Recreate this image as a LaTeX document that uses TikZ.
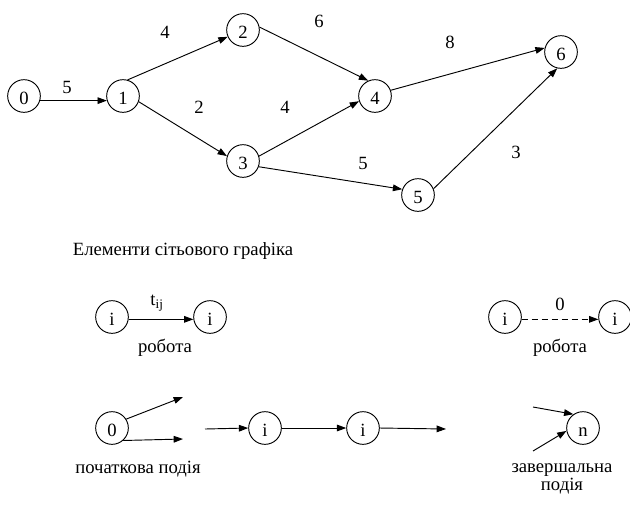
\documentclass[tikz,border=0pt]{standalone}
\usepackage{fontspec}
\setmainfont{Liberation Serif}
\usetikzlibrary{arrows.meta}

\tikzset{
  event/.style={circle,draw,line width=0.7pt,minimum size=24.5pt,inner sep=0pt,text height=2.9ex,text depth=0pt},
  job/.style={line width=0.7pt,-{Triangle[length=7pt,width=5pt]}},
  dummyjob/.style={job,dash pattern=on 4.5pt off 3pt}
}

\begin{document}
\begin{tikzpicture}[x=0.75pt,y=-0.75pt,font=\fontsize{14}{13}\selectfont]
\useasboundingbox (0,0) rectangle (630,508);

% Network graph: events
\node[event] (e0) at (24,96){0};
\node[event] (e1) at (123,96){1};
\node[event] (e2) at (243,30){2};
\node[event] (e3) at (243,161){3};
\node[event] (e4) at (375,96){4};
\node[event] (e5) at (418,195){5};
\node[event] (e6) at (561,52){6};

% Network graph: jobs
\draw[job] (e0.-16)--(e1.196);
\draw[job] (e1.74)--(e2.204);
\draw[job] (e1.-20)--(e3.163);
\draw[job] (e2.10)--(e4.114);
\draw[job] (e3.17)--(e4.198);
\draw[job] (e3.-20)--(e5.160);
\draw[job] (e4.20)--(e6.166);
\draw[job] (e5.22)--(e6.257);

% Durations
\node at (67,87){5};
\node at (165,32){4};
\node at (199,107){2};
\node at (285,107){4};
\node at (319,21){6};
\node at (450,42){8};
\node at (363,163){5};
\node at (516,152){3};

% Legend title
\node (title) at (183,251){Елементи сітьового графіка};

% Job and dummy job
\node[event] (ja) at (112,317){i};
\node[event] (jb) at (210,317){i};
\draw[job] (ja.-8)--(jb.188);
\node at (157,303){t\textsubscript{ij}};
\node at (165,348){робота};

\node[event] (da) at (505,317){i};
\node[event] (db) at (615,317){i};
\draw[dummyjob] (da.-8)--(db.188);
\node at (560,304){0};
\node at (560,348){робота};

% Start event
\node[event] (s0) at (112,428){0};
\coordinate (su) at (183,397);
\coordinate (sd) at (183,439);
\draw[job] (s0.32)--(su);
\draw[job] (s0.-48)--(sd);
\node at (138,469){початкова подія};

% Intermediate events
\coordinate (ma) at (205,429);
\node[event] (m1) at (265,428){i};
\node[event] (m2) at (363,428){i};
\coordinate (mb) at (446,429);
\draw[job] (ma)--(m1.west);
\draw[job] (m1.east)--(m2.west);
\draw[job] (m2.east)--(mb);

% Final event
\node[event] (fn) at (583,428){n};
\coordinate (fu) at (533,407);
\coordinate (fd) at (533,451);
\draw[job] (fu)--(fn.125);
\draw[job] (fd)--(fn.190);
\node[align=center] at (562,479){завершальна\\подія};

\end{tikzpicture}
\end{document}
